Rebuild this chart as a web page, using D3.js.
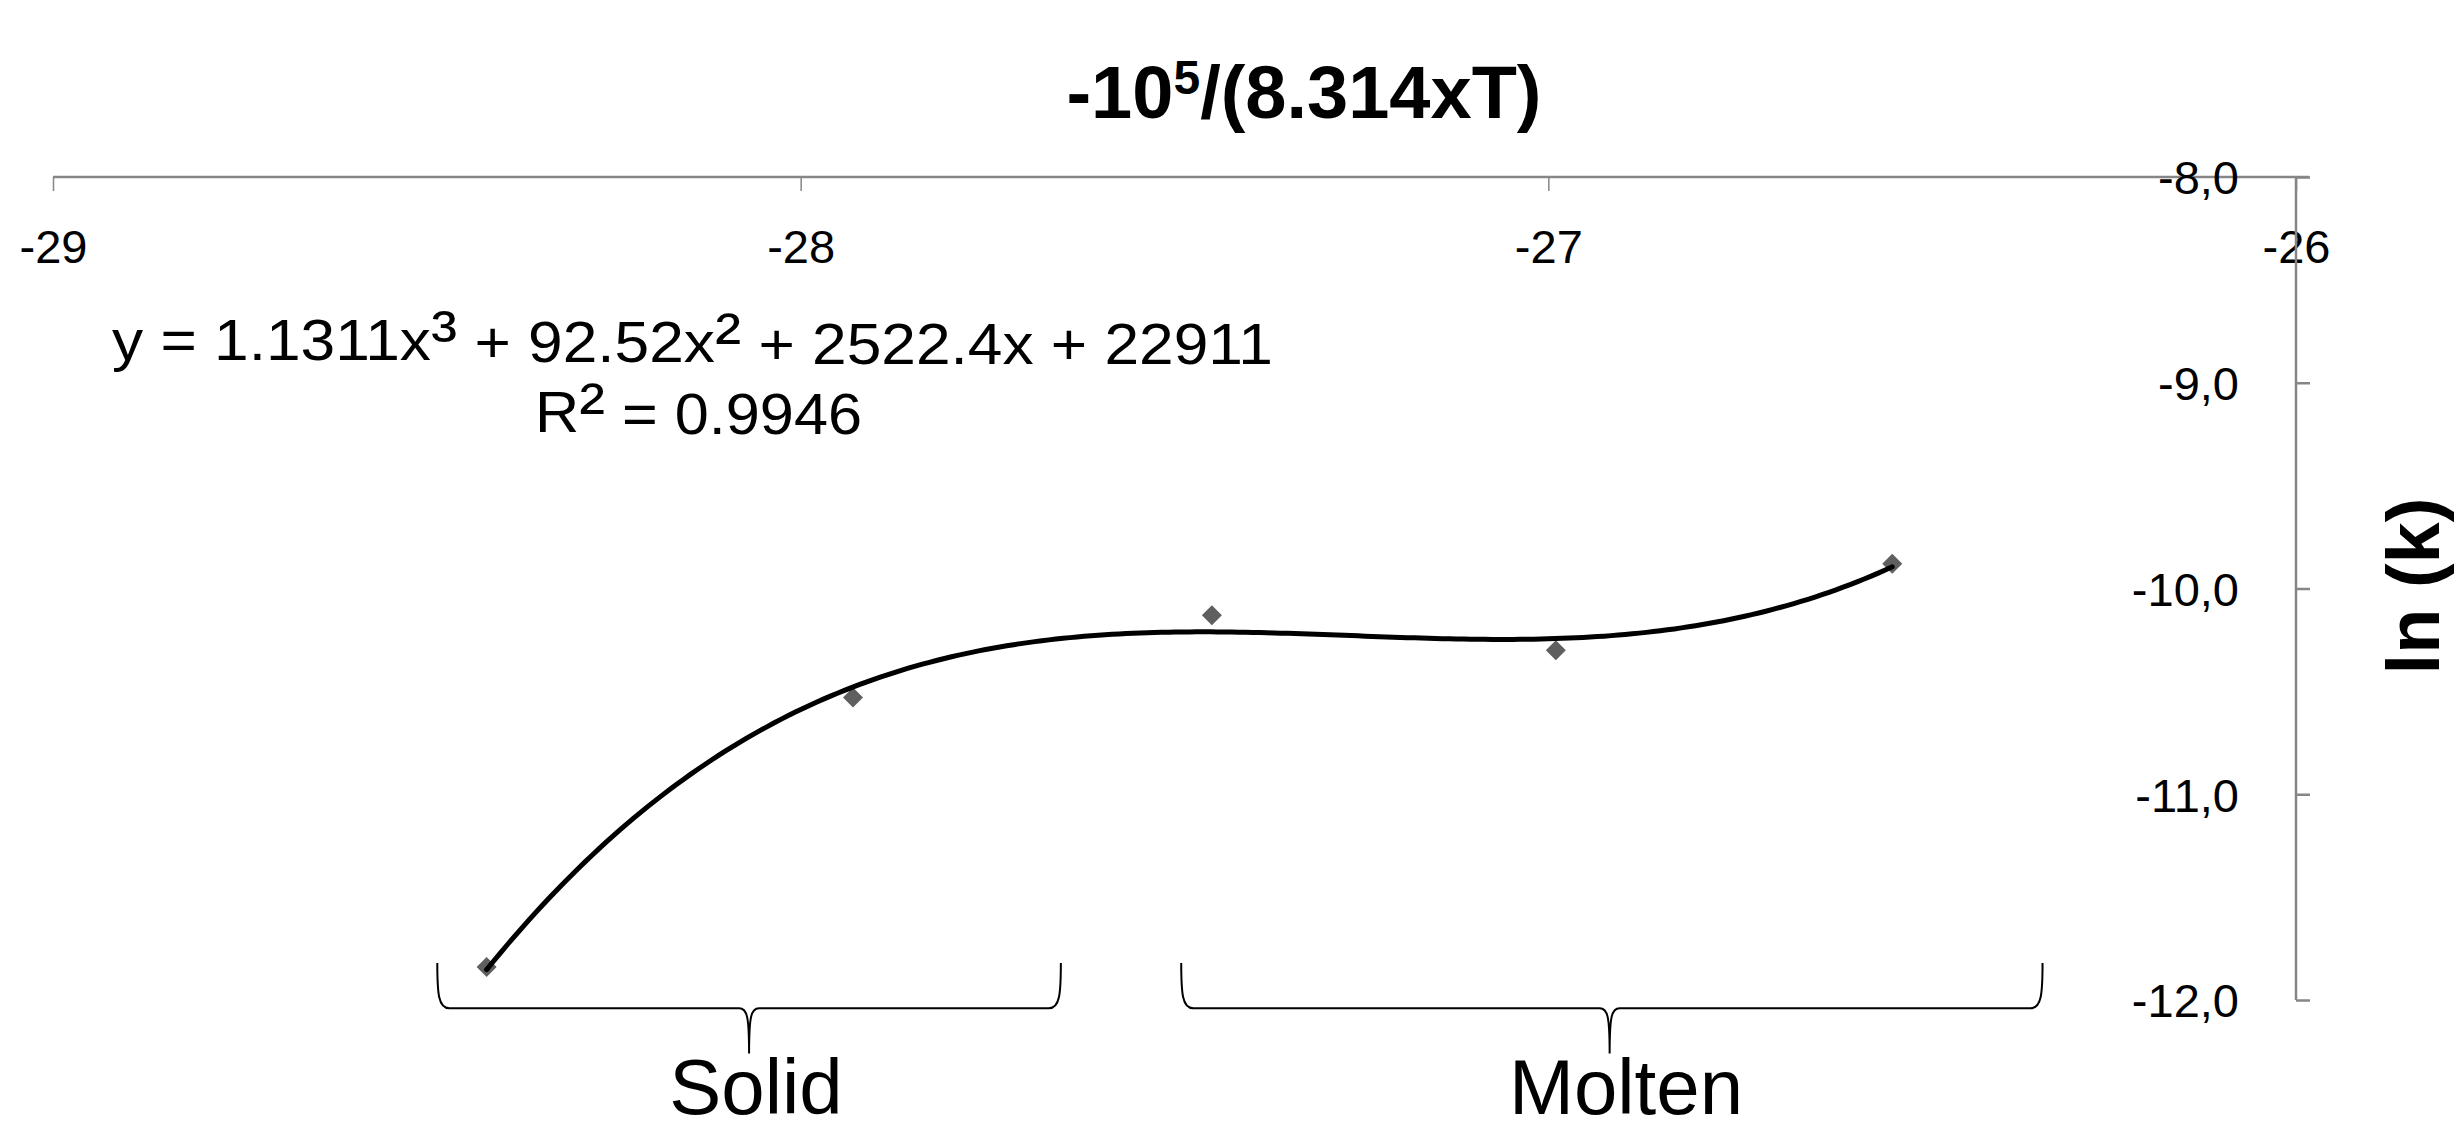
<!DOCTYPE html>
<html>
<head>
<meta charset="utf-8">
<script src="https://cdn.jsdelivr.net/npm/d3@7/dist/d3.min.js"></script>
<style>
  html, body { margin: 0; padding: 0; background: #fff; }
  svg { display: block; font-family: "Liberation Sans", Arial, sans-serif; }
</style>
</head>
<body>
<svg id="chart" width="2459" height="1134"></svg>
<script>
// ---- data ----
const xValues = [-28.42, -27.93, -27.45, -26.99, -26.54];
const yValues = [-11.84, -10.53, -10.13, -10.30, -9.88];
const xTicks = [-29, -28, -27, -26];
const yTicks = [-8, -9, -10, -11, -12];
const xTickLabels = ["-29", "-28", "-27", "-26"];
const yTickLabels = ["-8,0", "-9,0", "-10,0", "-11,0", "-12,0"];
const phaseNames = ["Solid", "Molten"];
const phaseStart = [-28.486, -27.491];
const phaseEnd = [-27.652, -26.339];
const phaseMid = [-28.069, -26.918];
const braceTop = -11.82, braceLine = -12.04, braceTip = -12.26;
const equationParts = ["y = 1.1311x", "\u00B3", " + 92.52x", "\u00B2", " + 2522.4x + 22911"];
const r2Parts = ["R", "\u00B2", " = 0.9946"];

// ---- scales ----
const svg = d3.select("#chart");
svg.append("rect").attr("width", 2459).attr("height", 1134).attr("fill", "#fff");
const x = d3.scaleLinear().domain([-29, -26]).range([53, 2296]);
const y = d3.scaleLinear().domain([-8, -12]).range([177, 1000]);

// ---- axes ----
const axisColor = "#868686";
const xAxis = d3.axisBottom(x).tickValues(xTicks).tickSize(14).tickFormat((d, i) => xTickLabels[i]);
const gx = svg.append("g").attr("transform", `translate(0,${y(-8)})`).call(xAxis);
gx.select(".domain").attr("d", `M${x(-29)},0H${x(-26) + 13}`).attr("stroke", axisColor).attr("stroke-width", 2.5);
gx.selectAll(".tick line").attr("stroke", axisColor).attr("stroke-width", 1.5);
gx.selectAll(".tick text").attr("font-size", 47).attr("fill", "#000")
  .attr("y", 0).attr("dy", 0).attr("transform", "translate(0,86)")
  .attr("font-family", "Liberation Sans, Arial, sans-serif");

const yAxis = d3.axisRight(y).tickValues(yTicks).tickSize(14).tickFormat((d, i) => yTickLabels[i]);
const gy = svg.append("g").attr("transform", `translate(${x(-26)},0)`).call(yAxis);
gy.select(".domain").attr("d", `M0,${y(-8)}V${y(-12)}`).attr("stroke", axisColor).attr("stroke-width", 2.5);
gy.selectAll(".tick line").attr("stroke", axisColor).attr("stroke-width", 2.5);
gy.selectAll(".tick text").attr("font-size", 47).attr("fill", "#000")
  .attr("x", -57).attr("text-anchor", "end").attr("dy", "0.36em")
  .attr("font-family", "Liberation Sans, Arial, sans-serif");

// ---- titles ----
const title = svg.append("text").attr("x", 1304).attr("y", 118).attr("text-anchor", "middle")
  .attr("font-size", 74).attr("font-weight", "bold");
title.append("tspan").text("-10");
title.append("tspan").attr("font-size", 48).attr("dy", -24).text("5");
title.append("tspan").attr("dy", 24).text("/(8.314xT)");

svg.append("text").attr("transform", "translate(2439,586) rotate(-90)")
  .attr("text-anchor", "middle").attr("font-size", 74).attr("font-weight", "bold").text("ln (k)");

// ---- markers ----
const pts = xValues.map((v, i) => [v, yValues[i]]);
svg.append("g").selectAll("path").data(pts).join("path")
  .attr("d", d3.symbol(d3.symbolSquare).size(200))
  .attr("transform", d => `translate(${x(d[0])},${y(d[1])}) rotate(45)`)
  .attr("fill", "#5f5f5f");

// ---- cubic trend line (least squares fit of data) ----
function polyFit(xs, ys, deg) {
  const n = deg + 1;
  const A = Array.from({length: n}, () => new Array(n + 1).fill(0));
  const xm = d3.mean(xs);
  for (let k = 0; k < xs.length; k++) {
    const t = xs[k] - xm;
    for (let i = 0; i < n; i++) {
      for (let j = 0; j < n; j++) A[i][j] += Math.pow(t, i + j);
      A[i][n] += ys[k] * Math.pow(t, i);
    }
  }
  for (let c = 0; c < n; c++) {
    let p = c;
    for (let r = c + 1; r < n; r++) if (Math.abs(A[r][c]) > Math.abs(A[p][c])) p = r;
    [A[c], A[p]] = [A[p], A[c]];
    for (let r = 0; r < n; r++) {
      if (r === c) continue;
      const f = A[r][c] / A[c][c];
      for (let j = c; j <= n; j++) A[r][j] -= f * A[c][j];
    }
  }
  const coef = A.map((row, i) => row[n] / row[i]);
  return v => coef.reduce((s, a, i) => s + a * Math.pow(v - xm, i), 0);
}
const fit = polyFit(xValues, yValues, 3);
const x0 = d3.min(xValues), x1 = d3.max(xValues);
const curve = d3.range(0, 201).map(i => { const v = x0 + (x1 - x0) * i / 200; return [v, fit(v)]; });
svg.append("path").datum(curve)
  .attr("d", d3.line().x(d => x(d[0])).y(d => y(d[1])))
  .attr("fill", "none").attr("stroke", "#000").attr("stroke-width", 5)
  .attr("stroke-linecap", "round");

// ---- equation ----
function richText(parts, xPos, yPos, len) {
  const t = svg.append("text").attr("x", xPos).attr("y", yPos).attr("font-size", 57)
    .attr("textLength", len).attr("lengthAdjust", "spacingAndGlyphs");
  parts.forEach(s => {
    const sup = s === "\u00B3" || s === "\u00B2";
    t.append("tspan").attr("font-size", sup ? 72 : 57).attr("dy", sup ? 2 : 0).text(s);
    if (sup) t.append("tspan").attr("dy", -2).text("");
  });
  return t;
}
richText(equationParts, 112, 360, 1161);
richText(r2Parts, 535, 432, 327);

// ---- phase braces ----
const braces = svg.append("g");
phaseNames.forEach((name, i) => {
  const l = x(phaseStart[i]), r = x(phaseEnd[i]), m = x(phaseMid[i]);
  const t = y(braceTop), h = y(braceLine), b = y(braceTip);
  const p = d3.path();
  p.moveTo(l, t);
  p.bezierCurveTo(l, h - 15, l + 1, h, l + 12, h);
  p.lineTo(m - 10, h);
  p.bezierCurveTo(m - 2, h, m, h + 8, m, b);
  p.moveTo(m, b);
  p.bezierCurveTo(m, h + 8, m + 2, h, m + 10, h);
  p.lineTo(r - 12, h);
  p.bezierCurveTo(r - 1, h, r, h - 15, r, t);
  braces.append("path").attr("d", p.toString()).attr("fill", "none")
    .attr("stroke", "#000").attr("stroke-width", 2);
  braces.append("text").attr("x", [756, 1626][i]).attr("y", 1114).attr("text-anchor", "middle")
    .attr("font-size", 78).text(name);
});
</script>
</body>
</html>
